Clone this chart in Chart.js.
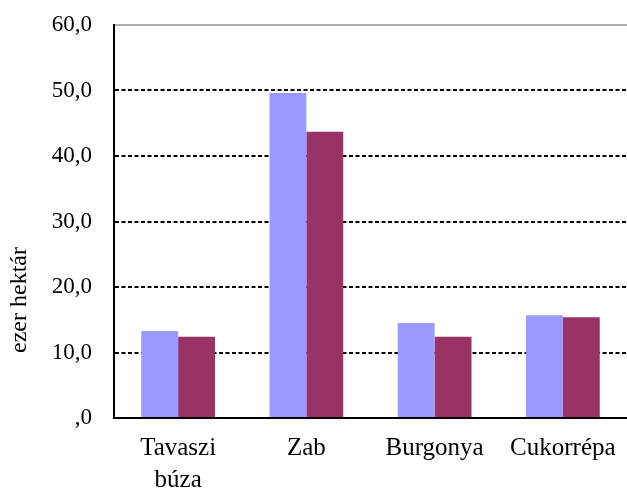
<!DOCTYPE html>
<html lang="hu">
<head>
<meta charset="utf-8">
<title>ezer hektár</title>
<script src="https://cdn.jsdelivr.net/npm/chart.js@4.4.1/dist/chart.umd.min.js"></script>
<style>
  html, body { margin: 0; padding: 0; background: #fff; }
  #wrap { width: 627px; height: 489px; position: relative; }
</style>
</head>
<body>
<div id="wrap"><canvas id="grafikon"></canvas></div>
<script>
const kategoriak = [['Tavaszi', 'búza'], 'Zab', 'Burgonya', 'Cukorrépa'];
const sorozat1 = [13.3, 49.6, 14.5, 15.7];
const sorozat2 = [12.4, 43.7, 12.4, 15.4];
const yTickek = [',0', '10,0', '20,0', '30,0', '40,0', '50,0', '60,0'];
const tengelyCim = 'ezer hektár';

const betu = '"Liberation Serif", "Times New Roman", serif';

// y tengely felirata kézzel, a tengelytől balra, kicsit lejjebb
const cimPlugin = {
  id: 'tengelyCim',
  afterDraw(chart) {
    const ctx = chart.ctx;
    ctx.save();
    ctx.translate(26, 300);
    ctx.rotate(-Math.PI / 2);
    ctx.font = '24px ' + betu;
    ctx.fillStyle = '#000';
    ctx.textAlign = 'center';
    ctx.textBaseline = 'alphabetic';
    ctx.fillText(tengelyCim, 0, 0);
    ctx.restore();
  }
};

new Chart(document.getElementById('grafikon'), {
  type: 'bar',
  data: {
    labels: kategoriak,
    datasets: [
      { label: '1', data: sorozat1, backgroundColor: '#9999FF' },
      { label: '2', data: sorozat2, backgroundColor: '#993366' }
    ]
  },
  options: {
    responsive: true,
    maintainAspectRatio: false,
    animation: false,
    layout: { padding: { top: 25, right: -3, left: 0, bottom: 0 } },
    plugins: {
      legend: { display: false },
      tooltip: { enabled: false }
    },
    datasets: {
      bar: { categoryPercentage: 0.575, barPercentage: 1.0 }
    },
    scales: {
      x: {
        grid: { display: false, drawTicks: false },
        border: { display: true, color: '#000', width: 2 },
        ticks: {
          color: '#000',
          font: { family: betu, size: 25, lineHeight: 1.28 },
          padding: 14,
          maxRotation: 0,
          autoSkip: false
        },
        afterFit(scale) { scale.height = 71; scale.paddingLeft = 0; scale.paddingRight = 0; }
      },
      y: {
        min: 0,
        max: 60,
        grid: {
          drawTicks: false,
          color: c => c.index === 0 ? 'rgba(0,0,0,0)' : (c.index === 6 ? '#b0b0b0' : '#000'),
          lineWidth: 2
        },
        border: {
          display: true, color: '#000', width: 2,
          dash: c => c.index === 6 ? [] : [4, 2.5]
        },
        ticks: {
          stepSize: 10,
          color: '#000',
          padding: 22,
          font: { family: betu, size: 23 },
          callback: (v, i) => yTickek[i]
        },
        afterFit(scale) { scale.width = 114; scale.paddingTop = 0; scale.paddingBottom = 0; }
      }
    }
  },
  plugins: [cimPlugin]
});
</script>
</body>
</html>
